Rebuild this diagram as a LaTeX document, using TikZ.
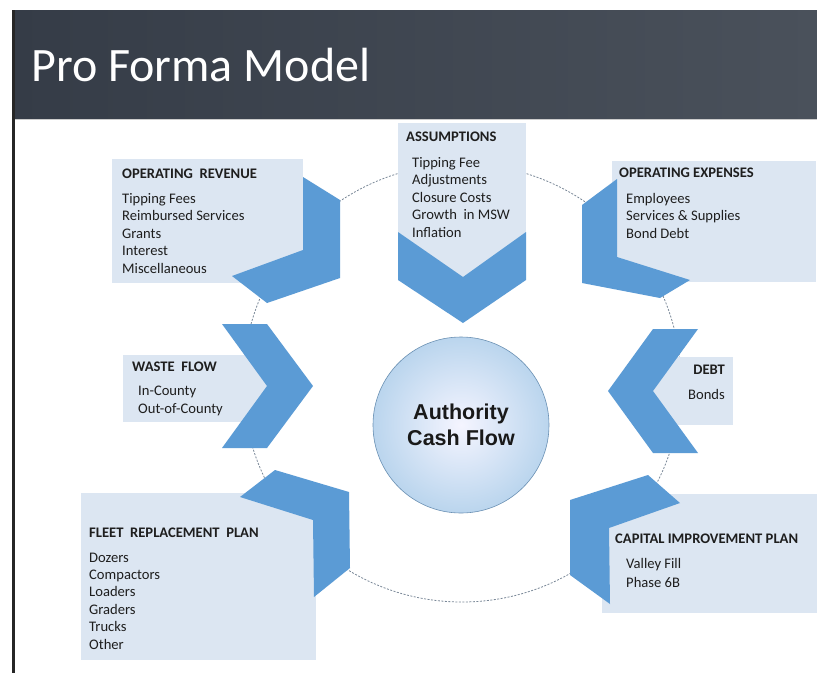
\documentclass[tikz,border=0pt]{standalone}
\usepackage{fontspec}
\setmainfont{Carlito}
\newfontfamily\arialfont{Liberation Sans}
\definecolor{boxblue}{HTML}{DCE6F2}
\definecolor{chevblue}{HTML}{5B9BD5}
\definecolor{slateL}{HTML}{353C47}
\definecolor{slateR}{HTML}{4A515B}
\definecolor{inkgray}{HTML}{1E1E1E}
\definecolor{ringgray}{HTML}{7A8898}
\begin{document}
\begin{tikzpicture}[x=1pt, y=-1pt,
    lbox/.style={fill=boxblue},
    chev/.style={fill=chevblue},
    head/.style={anchor=base west, inner sep=0pt, text=inkgray, font=\fontsize{14.6}{17}\selectfont\bfseries},
    item/.style={anchor=base west, inner sep=0pt, text=inkgray, font=\fontsize{14.6}{17.5}\selectfont}]
\useasboundingbox (0,0) rectangle (817,673);
\fill[white] (0,0) rectangle (817,673);
% title bar
\shade[left color=slateL, right color=slateR] (12,10) rectangle (817,119);
\draw[gray!40, line width=1.5pt] (15,119.5) -- (817,119.5);
\draw[black!85, line width=3pt] (13.5,10) -- (13.5,673);
\node[anchor=base west, inner sep=0pt, text=white, font=\fontsize{48}{48}\selectfont] (title) at (31,81) {Pro Forma Model};
% dashed ring
\draw[ringgray, dash pattern=on 2pt off 1.5pt, line width=0.8pt] (462,383) circle[radius=219pt];
% light boxes
\fill[lbox] (112,159) rectangle (303,283);
\fill[lbox] (398,123) rectangle (526,277);
\fill[lbox] (612,161) rectangle (816,282);
\fill[lbox] (123,355) rectangle (267,422);
\fill[lbox] (653,357) rectangle (733,425);
\fill[lbox] (81,493) rectangle (316,660);
\fill[lbox] (602,494) rectangle (817,613);
% chevrons
\fill[chev] (398,232) -- (463,277) -- (526,232) -- (526,280) -- (463,323) -- (398,280) -- cycle;
\fill[chev] (303,177) -- (340,200) -- (340,278) -- (267,303) -- (232,276) -- (303,250) -- cycle;
\fill[chev] (617,179) -- (582,205) -- (582,283) -- (660,298) -- (690,280) -- (617,257) -- cycle;
\fill[chev] (222,324) -- (267,324) -- (313,386) -- (267,448) -- (222,448) -- (267,386) -- cycle;
\fill[chev] (653,329) -- (698,329) -- (653,391) -- (698,453) -- (653,453) -- (608,391) -- cycle;
\fill[chev] (275,470) -- (349,492) -- (350,568) -- (314,597) -- (313,520) -- (240,497) -- cycle;
\fill[chev] (570,500) -- (648,475) -- (680,503) -- (609,528) -- (610,604) -- (570,575) -- cycle;
% texts
\node[head] (rev) at (122,178) {OPERATING~~REVENUE};
\foreach \t [count=\i from 0] in {Tipping Fees,Reimbursed Services,Grants,Interest,Miscellaneous}
{
    \node[item] (rev-\i) at (122,203+17.5*\i) {\t};
}
\node[head] (asm) at (406,141) {ASSUMPTIONS};
\foreach \t [count=\i from 0] in {Tipping Fee,Adjustments,Closure Costs,Growth~~in MSW,Inflation}
{
    \node[item] (asm-\i) at (412,167+17.5*\i) {\t};
}
\node[head] (exp) at (619,177) {OPERATING EXPENSES};
\foreach \t [count=\i from 0] in {Employees,Services \& Supplies,Bond Debt}
{
    \node[item] (exp-\i) at (626,203+17.5*\i) {\t};
}
\node[head] (waste) at (132,371) {WASTE~~FLOW};
\foreach \t [count=\i from 0] in {In-County,Out-of-County}
{
    \node[item] (waste-\i) at (138,395+18*\i) {\t};
}
\node[head, anchor=base east] (debt) at (725,374) {DEBT};
\node[item, anchor=base east] (debt-0) at (725,399) {Bonds};
\node[head] (fleet) at (89,537) {FLEET~~REPLACEMENT~~PLAN};
\foreach \t [count=\i from 0] in {Dozers,Compactors,Loaders,Graders,Trucks,Other}
{
    \node[item] (fleet-\i) at (89,562+17.4*\i) {\t};
}
\node[head] (cap) at (615,543) {CAPITAL IMPROVEMENT PLAN};
\foreach \t [count=\i from 0] in {Valley Fill,Phase 6B}
{
    \node[item] (cap-\i) at (626,568+19*\i) {\t};
}
% centre
\node[circle, minimum size=176pt, inner sep=0pt, draw=chevblue!60!gray, line width=0.6pt,
      inner color=blue!4!white, outer color=chevblue!42!white, align=center,
      font=\arialfont\bfseries\fontsize{21.5}{26}\selectfont, text=black!90] (cash) at (461,425) {Authority\\Cash Flow};
\end{tikzpicture}
\end{document}
